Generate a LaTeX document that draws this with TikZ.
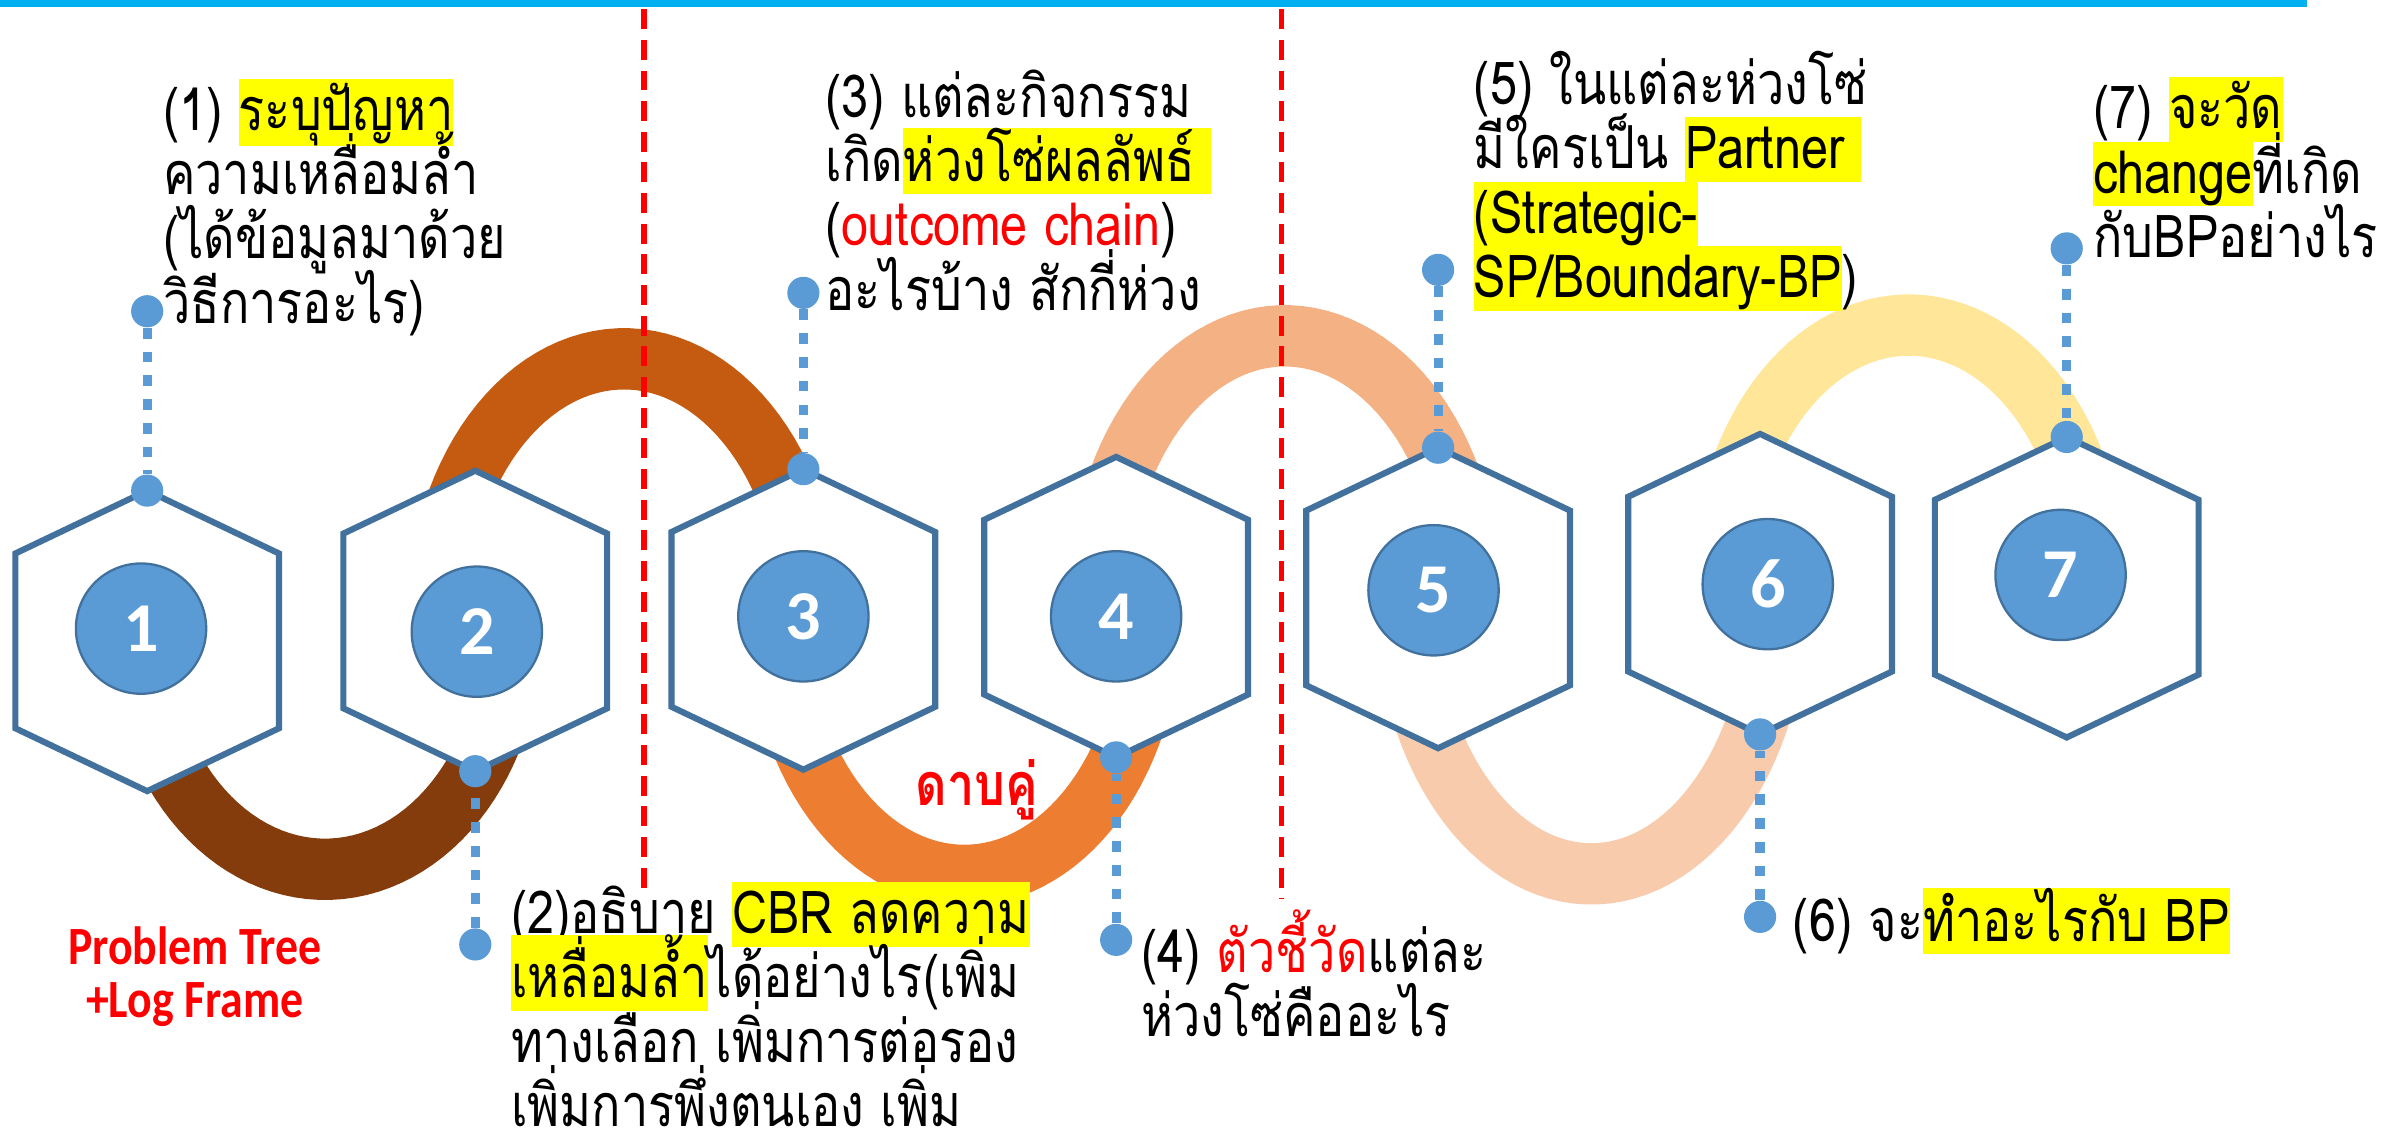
\documentclass[tikz,border=0pt]{standalone}
\usepackage{fontspec}
\newfontfamily\thaifont[Script=Thai,FakeStretch=0.82]{Loma}
\newfontfamily\numfont{Carlito}
\newfontfamily\tagfont[FakeStretch=0.85]{Carlito}
\definecolor{barblue}{HTML}{00B0F0}
\definecolor{hexblue}{HTML}{41719C}
\definecolor{numblue}{HTML}{5B9BD5}
\definecolor{hly}{HTML}{FFFF00}
\definecolor{linkA}{HTML}{843C0C}
\definecolor{linkB}{HTML}{C55A11}
\definecolor{linkC}{HTML}{ED7D31}
\definecolor{linkD}{HTML}{F4B183}
\definecolor{linkE}{HTML}{F8CBAD}
\definecolor{linkF}{HTML}{FFE699}
\newcommand{\mk}[1]{{\setlength{\fboxsep}{0pt}\colorbox{hly}{\rule[-4.8pt]{0pt}{23.9pt}#1}}}
\newcommand{\txtfont}{\thaifont\fontsize{22}{23.9}\selectfont\setlength{\lineskiplimit}{-100pt}}

\begin{document}
\begin{tikzpicture}[x=0.02cm,y=-0.02cm,
  hexa/.style={draw=hexblue,line width=0.08cm,fill=white},
  num/.style={circle,fill=numblue,draw=hexblue,line width=0.03cm,minimum size=1.7cm,inner sep=0pt,text=white,font=\numfont\bfseries\fontsize{26}{26}\selectfont},
  dot/.style={circle,fill=numblue,inner sep=0pt,minimum size=0.42cm},
  lead/.style={numblue,line width=0.12cm,dash pattern=on 0.14cm off 0.17cm},
  divider/.style={red,line width=0.07cm,dash pattern=on 0.26cm off 0.14cm},
  link/.style={line width=0.8cm},
  txt/.style={anchor=north west,align=left,inner sep=0pt,font=\txtfont,execute at begin node={\rule[-4.8pt]{0pt}{23.9pt}}}]
\useasboundingbox (0,0) rectangle (1568,738);
\fill[barblue] (0,0) rectangle (1505,4.5);

% chain links
\foreach \cx/\cy/\ry/\col in {212/410/157/linkA,407/405/-171/linkB,629/400/171/linkC,838/394/-175/linkD,1038/386/184/linkE,1245/382/-170/linkF}
\draw[link,\col] plot[domain=0:180,samples=60] ({\cx+122*cos(\x)},{\cy+\ry*sin(\x)});

\draw[divider] (420,6) -- (420,582);
\draw[divider] (836,6) -- (836,586);

% hexagons
\foreach \cx/\ty in {96/320,310/307,524/306,728/298,938/292,1148/283,1348/285}
\draw[hexa] (\cx,\ty) -- ++(86,41) -- ++(0,114) -- ++(-86,41) -- ++(-86,-41) -- ++(0,-114) -- cycle;

\foreach \i/\x/\y in {1/92/410,2/311/412,3/524/402,4/728/402,5/935/385,6/1153/381,7/1344/375}
\node[num](n\i) at (\x,\y) {\i};

% leaders
\foreach \i/\x/\ya/\yb in {1/96/203/320,2/310/616/503,3/524/191/306,4/728/613/494,5/938/176/292,6/1148/598/479,7/1348/162/285}{
\node[dot](p\i) at (\x,\ya) {};
\node[dot](q\i) at (\x,\yb) {};
\draw[lead] (p\i) -- (q\i);
}

\node[txt](t1) at (106,51) {(1) \mk{ระบุปัญหา}\\ความเหลื่อมล้ำ\\(ได้ข้อมูลมาด้วย\\วิธีการอะไร)};
\node[txt](t2) at (333,575) {(2)อธิบาย \mk{CBR ลดความ}\\\mk{เหลื่อมล้ำ}ได้อย่างไร(เพิ่ม\\ทางเลือก เพิ่มการต่อรอง\\เพิ่มการพึ่งตนเอง เพิ่ม};
\node[txt](t3) at (538,45) {(3) แต่ละกิจกรรม\\เกิด\mk{ห่วงโซ่ผลลัพธ์ }\\(\textcolor{red}{outcome chain})\\อะไรบ้าง สักกี่ห่วง};
\node[txt](t4) at (744,593) {(4) \textcolor{red}{ตัวชี้วัด}แต่ละ\\ห่วงโซ่คืออะไร};
\node[txt](t5) at (961,33) {(5) ในแต่ละห่วงโซ่\\มีใครเป็น \mk{Partner }\\\mk{(Strategic-}\\\mk{SP/Boundary-BP})};
\node[txt](t6) at (1169,579) {(6) จะ\mk{ทำอะไรกับ BP}};
\node[txt](t7) at (1365,50) {(7) \mk{จะวัด}\\\mk{change}ที่เกิด\\กับBPอย่างไร};

\node[font=\tagfont\bfseries\fontsize{20}{20}\selectfont,text=red,align=center](pt) at (127,637) {Problem Tree\\+Log Frame};
\node[font=\thaifont\bfseries\fontsize{22}{24}\selectfont,text=red](dk) at (637,515) {ดาบคู่};
\end{tikzpicture}
\end{document}
